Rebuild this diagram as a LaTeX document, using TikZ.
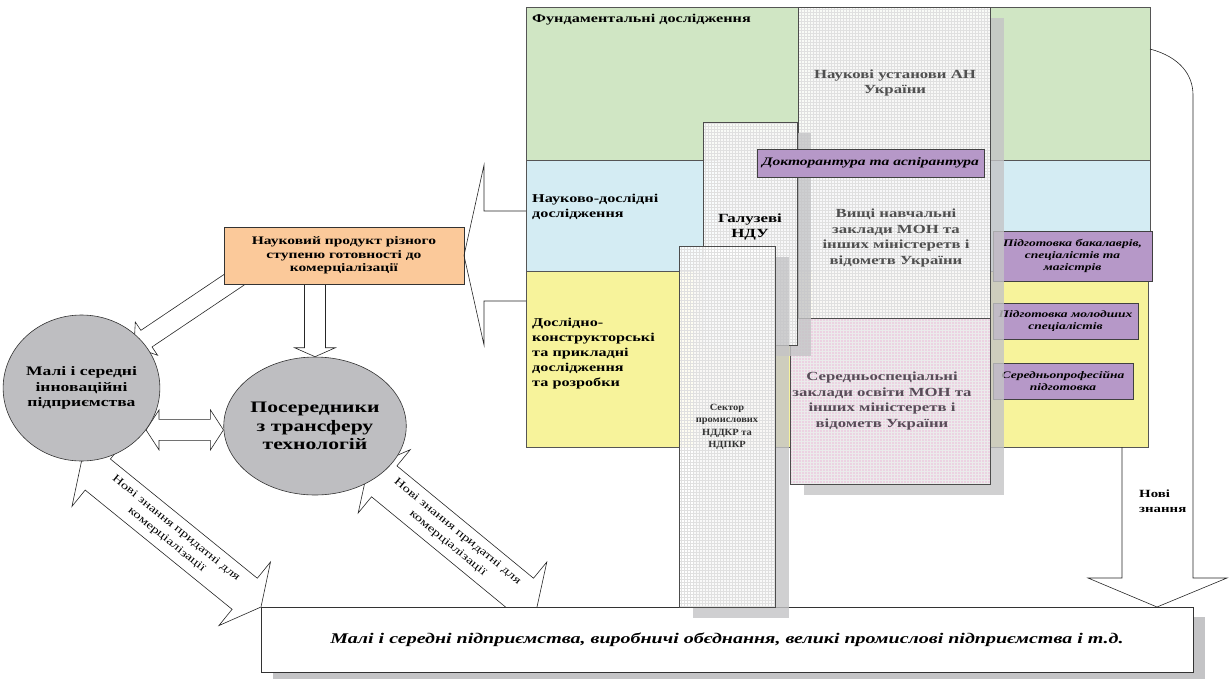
\documentclass[tikz,border=0pt]{standalone}
\usepackage{fontspec}
\setmainfont{Liberation Serif}[FakeStretch=1.35]
\newfontfamily\plainserif{Liberation Serif}[FakeStretch=1.1]
\usetikzlibrary{calc,patterns,shapes.geometric}

\definecolor{fundgreen}{RGB}{208,230,196}
\definecolor{resblue}{RGB}{212,236,243}
\definecolor{devyellow}{RGB}{247,243,155}
\definecolor{edupink}{RGB}{236,210,226}
\definecolor{trainlilac}{RGB}{182,152,200}
\definecolor{prodorange}{RGB}{251,201,154}
\definecolor{agentgrey}{RGB}{190,190,193}
\definecolor{shadowgrey}{RGB}{196,196,198}
\definecolor{edge}{RGB}{85,85,85}
\definecolor{instink}{RGB}{80,80,80}
\definecolor{pinkink}{RGB}{88,76,88}

\pgfdeclarelayer{arrows}
\pgfsetlayers{arrows,main}

% rectangle node given by its top-left and bottom-right corners
\newcommand\panel[7]{%
  \node[#1, anchor=north west, inner sep=0pt, outer sep=0pt,
        minimum width={(#5)-(#3)}, minimum height={(#6)-(#4)}] (#2) at (#3,#4) {#7};}
% drop shadow behind a panel
\newcommand\castshadow[4]{\fill[castshade] (#1+14,#2+11) rectangle (#3+14,#4+11);}
% block arrow: #1 start, #2 tip, #3 half shaft, #4 half head, #5 head length
\newcommand\singlearrow[5]{%
  \coordinate (sa-h) at ($(#2)!#5!(#1)$);
  \draw[blockarrow] ($(#1)!#3!90:(#2)$) -- ($(sa-h)!#3!90:(#2)$) -- ($(sa-h)!#4!90:(#2)$)
    -- (#2) -- ($(sa-h)!#4!-90:(#2)$) -- ($(sa-h)!#3!-90:(#2)$) -- ($(#1)!#3!-90:(#2)$) -- cycle;}
% two-headed block arrow between tips #1 and #2
\newcommand\doublearrow[5]{%
  \coordinate (da-a) at ($(#1)!#5!(#2)$);
  \coordinate (da-b) at ($(#2)!#5!(#1)$);
  \draw[blockarrow] (#1) -- ($(da-a)!#4!90:(#2)$) -- ($(da-a)!#3!90:(#2)$)
    -- ($(da-b)!#3!-90:(#1)$) -- ($(da-b)!#4!-90:(#1)$) -- (#2)
    -- ($(da-b)!#4!90:(#1)$) -- ($(da-b)!#3!90:(#1)$)
    -- ($(da-a)!#3!-90:(#2)$) -- ($(da-a)!#4!-90:(#2)$) -- cycle;}

\begin{document}
\begin{tikzpicture}[x=1pt,y=-1pt,
  band/.style={draw=edge, line width=0.8pt},
  castshade/.style={fill=shadowgrey, fill opacity=0.8},
  instbox/.style={draw=black!70, line width=0.6pt,
    preaction={fill=white, fill opacity=0.88}, pattern=grid, pattern color=black!12},
  pinkbox/.style={draw=black!70, line width=0.6pt,
    preaction={fill=edupink}, pattern=grid, pattern color=black!8},
  lilac/.style={draw=black!75, line width=0.7pt, fill=trainlilac, align=center,
    font=\bfseries\itshape\fontsize{10}{12}\selectfont},
  bandlbl/.style={inner sep=0pt, align=left, font=\bfseries\fontsize{12}{15}\selectfont},
  insttext/.style={inner sep=0pt, align=center, text=instink,
    font=\bfseries\fontsize{12.4}{15.5}\selectfont},
  agent/.style={ellipse, draw=black!80, line width=0.6pt, fill=agentgrey, align=center,
    inner sep=0pt},
  blockarrow/.style={draw=black!85, line width=0.6pt, fill=white},
  diagtext/.style={align=center, inner sep=0pt, font=\fontsize{11}{15}\selectfont}]
\useasboundingbox (0,0) rectangle (1229,678);

% enterprises at the bottom
\fill[shadowgrey] (273,617) rectangle (1205,684);
\panel{draw=black!80, line width=0.7pt, fill=white,
  font=\bfseries\itshape\fontsize{14.8}{16}\selectfont}{firms}{261}{607}{1193}{672}%
  {Малі і середні підприємства, виробничі обєднання, великі промислові підприємства і т.д.}

% research bands
\panel{band, fill=fundgreen}{fund}{526}{7}{1150}{160}{}
\panel{band, fill=resblue}{res}{526}{160}{1150}{271}{}
\panel{band, fill=devyellow}{dev}{526}{271}{1148}{447}{}
\node[bandlbl, anchor=west] (fund-lbl) at (532,20) {Фундаментальні дослідження};
\node[bandlbl, anchor=west] (res-lbl) at (532,207) {Науково-дослідні\\дослідження};
\node[bandlbl, anchor=west] (dev-lbl) at (532,354)
  {Дослідно-\\конструкторські\\та прикладні\\дослідження\\та розробки};

% training levels
\panel{lilac}{bach}{993}{231}{1152}{281}{Підготовка бакалаврів,\\спеціалістів та\\магістрів}
\panel{lilac}{junior}{993}{303}{1138}{339}{Підготовка молодших\\спеціалістів}
\panel{lilac}{voc}{993}{363}{1133}{399}{Середньопрофесійна\\підготовка}

% institutions
\castshadow{798}{7}{990}{318}
\panel{instbox}{acad}{798}{7}{990}{318}{}
\castshadow{790}{318}{990}{484}
\panel{pinkbox}{college}{790}{318}{990}{484}{}
\castshadow{703}{122}{797}{345}
\panel{instbox}{branch}{703}{122}{797}{345}{}
\panel{lilac, font=\bfseries\itshape\fontsize{11.5}{13}\selectfont}{doct}{757}{149}{984}{177}%
  {Докторантура та аспірантура}
\castshadow{679}{246}{775}{607}
\panel{instbox}{sector}{679}{246}{775}{607}{}

\node[insttext] (acad-lbl) at (895,83) {Наукові установи АН\\України};
\node[insttext, text=black, font=\bfseries\fontsize{12.5}{14.5}\selectfont]
  (branch-lbl) at (750,227) {Галузеві\\НДУ};
\node[insttext] (univ-lbl) at (896,238)
  {Вищі навчальні\\заклади МОН та\\інших міністеретв і\\відометв України};
\node[insttext, text=pinkink] (college-lbl) at (882,401)
  {Середньоспеціальні\\заклади освіти МОН та\\інших міністеретв і\\відометв України};
\node[insttext, text=black!80, font=\plainserif\bfseries\fontsize{9.5}{12.5}\selectfont]
  (sector-lbl) at (727,427) {Сектор\\промислових\\НДДКР та\\НДПКР};

% scientific product and the agents
\panel{draw=black!80, line width=0.7pt, fill=prodorange, align=center,
  font=\bfseries\fontsize{11.5}{13.5}\selectfont}{prod}{224}{227}{464}{284}%
  {Науковий продукт різного\\ступеню готовності до\\комерціалізації}
\node[agent, minimum width=143, minimum height=146,
  font=\bfseries\fontsize{13}{15.5}\selectfont] (smes) at (81.5,388)
  {Малі і середні\\інноваційні\\підприємства};
\node[agent, minimum width=150, minimum height=138,
  font=\bfseries\fontsize{16}{18.5}\selectfont] (agents) at (315,426)
  {Посередники\\з трансферу\\технологій};

% bracket from the product to the applied bands
\draw[black!85, line width=0.6pt] ($(res.north west)+(0,51)$) -- (484,211) -- (484,165)
  -- (prod.east) -- (484,345) -- (484,301) -- ($(dev.north west)+(0,30)$);

% new knowledge flowing down to the enterprises
\coordinate (nk-a) at ($(fund.north east)+(0,42)$);
\coordinate (nk-tip) at (1157,607);
\coordinate (nk-in) at (1122,578);
\draw[black!85, line width=0.6pt] (nk-a) .. controls (1180,57) and (1193,75) .. (1193,95)
  -- (1193,578) -- (1227,578) -- (nk-tip) -- (1088,578) -- (nk-in) -- (nk-in |- dev.south);
\node[anchor=west, inner sep=0pt, align=left, font=\bfseries\fontsize{11}{15}\selectfont]
  (nk-lbl) at (1139,501) {Нові\\знання};

% block arrows behind the shapes
\begin{pgfonlayer}{arrows}
  \coordinate (pa-s) at (259,263);
  \coordinate (pa-t) at (134,347);
  \singlearrow{pa-s}{pa-t}{10pt}{20pt}{15pt}
  \coordinate (pb-s) at (315,262);
  \singlearrow{pb-s}{agents.north}{10.5pt}{20.5pt}{9pt}
  \doublearrow{smes.-33}{agents.west |- smes.-33}{10.5pt}{20pt}{13pt}
  \doublearrow{smes.south}{firms.north west}{20pt}{41pt}{21pt}
  \path (smes.south) -- node[sloped, diagtext] {Нові знання придатні для\\комерціалізації}
    (firms.north west);
  \coordinate (kb-a) at (368,468);
  \coordinate (kb-b) at (537,607);
  \doublearrow{kb-a}{kb-b}{20pt}{41pt}{21pt}
  \path (kb-a) -- node[sloped, diagtext] {Нові знання придатні для\\комерціалізації} (kb-b);
\end{pgfonlayer}
\end{tikzpicture}
\end{document}
